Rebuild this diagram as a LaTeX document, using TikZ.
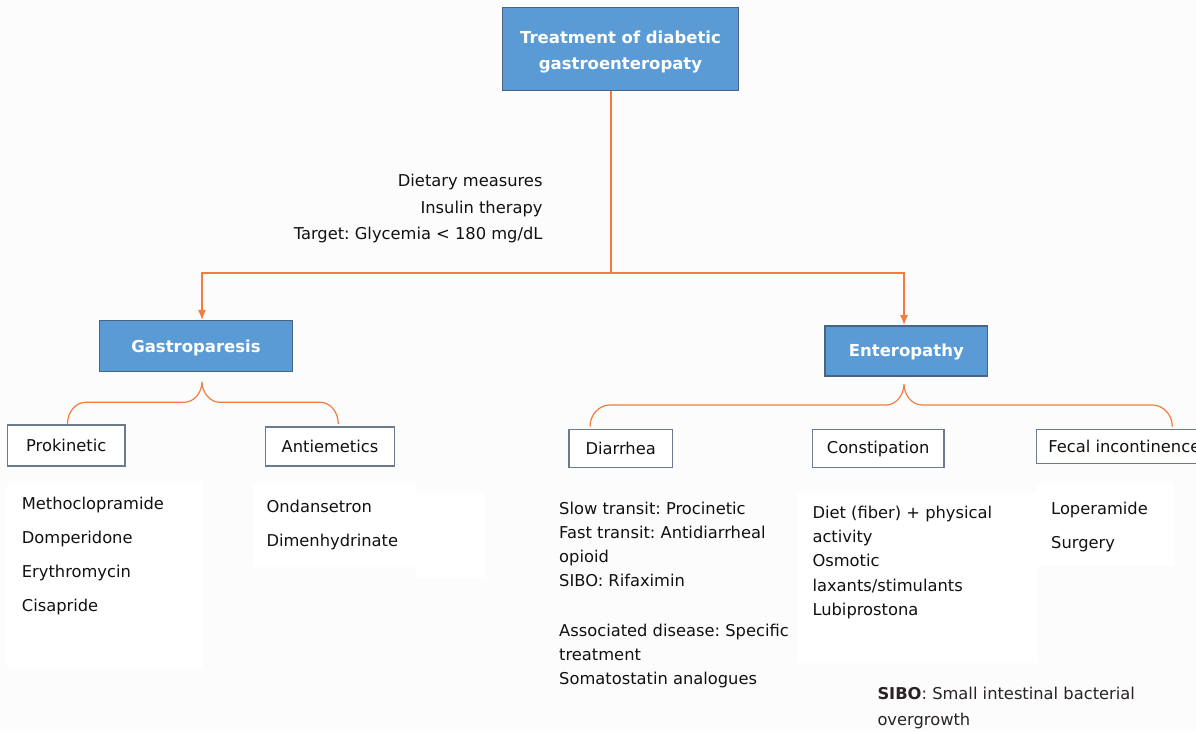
\documentclass[tikz,border=0pt]{standalone}
\usepackage{fontspec}
\setmainfont{DejaVu Sans}
\frenchspacing
\usetikzlibrary{arrows.meta,calc}
\definecolor{bluefill}{HTML}{5B9BD5}
\definecolor{blueline}{HTML}{4A6584}
\definecolor{grayline}{HTML}{6C7A8E}
\definecolor{orangeline}{HTML}{F47C3C}
\definecolor{txt}{HTML}{111111}
\definecolor{bgcol}{HTML}{FCFCFC}
\definecolor{sibocol}{HTML}{2A2223}
\tikzset{
  mainbox/.style={draw=blueline, line width=1.5pt, fill=bluefill, text=white,
    font=\bfseries\fontsize{16.5}{26}\selectfont, align=center, inner sep=0pt},
  subbox/.style={draw=grayline, line width=1.5pt, fill=white, text=txt,
    font=\fontsize{16.3}{20}\selectfont, inner sep=0pt},
  listtext/.style={anchor=north west, align=left, inner sep=0pt, text=txt},
  conn/.style={draw=orangeline, line width=1.2pt},
  arr/.style={conn, -{Latex[length=10pt,width=8pt]}},
  whitebg/.style={fill=white, draw=none},
}
\begin{document}
\frenchspacing
\begin{tikzpicture}[x=1pt,y=-1pt]
\clip (0,0) rectangle (1196,731);
\fill[bgcol] (0,0) rectangle (1196,731);
% white panels behind the lists
\fill[whitebg] (7,483) rectangle (202,668);
\fill[whitebg] (253,483) rectangle (416,567);
\fill[whitebg] (416,493) rectangle (485,578);
\fill[whitebg] (797,493) rectangle (1037,663);
\fill[whitebg] (1037,483) rectangle (1174,566);

% main boxes
\node[mainbox, minimum width=235.6pt, minimum height=83.4pt] (top) at (620.5,49)
  {\rule{0pt}{18.5pt}Treatment of diabetic\\gastroenteropaty};
\node[mainbox, minimum width=193.4pt, minimum height=51pt] (gastro) at (196,346.2)
  {\rule{0pt}{16.5pt}Gastroparesis};
\node[mainbox, minimum width=162.7pt, minimum height=50.3pt] (entero) at (906.3,350.9)
  {\rule{0pt}{14.5pt}Enteropathy};

% sub boxes
\node[subbox, minimum width=117.7pt, minimum height=41pt] (prok) at (66.2,445.5) {Prokinetic};
\node[subbox, minimum width=128.6pt, minimum height=39pt] (anti) at (330,446.5) {Antiemetics};
\node[subbox, minimum width=103.3pt, minimum height=37.6pt] (diar) at (620.7,448.5) {Diarrhea};
\node[subbox, minimum width=131.7pt, minimum height=37.6pt] (const) at (878.2,448.5) {Constipation};
\node[subbox, minimum width=175.3pt, minimum height=33.6pt] (fecal) at (1124.3,446.5) {Fecal incontinence};

% general measures
\node[anchor=north east, align=right, inner sep=0pt, text=txt,
  font=\fontsize{16.3}{26.3}\selectfont] (gen) at (542.7,174.3)
  {Dietary measures\\Insulin therapy\\Target: Glycemia < 180 mg/dL};

% lists
\node[listtext, font=\fontsize{16.3}{34}\selectfont] (prokl) at (21.7,496.9)
  {Methoclopramide\\Domperidone\\Erythromycin\\Cisapride};
\node[listtext, font=\fontsize{16.3}{33.7}\selectfont] (antil) at (266.3,499.9)
  {Ondansetron\\Dimenhydrinate};
\node[listtext, font=\fontsize{16.3}{24}\selectfont] (diarl) at (559,501.9)
  {Slow transit: Procinetic\\Fast transit: Antidiarrheal\\opioid\\SIBO: Rifaximin\\[25.7pt]
   Associated disease: Specific\\treatment\\Somatostatin analogues};
\node[listtext, font=\fontsize{16.3}{24.2}\selectfont] (constl) at (812.3,505.9)
  {Diet (fiber) + physical\\activity\\Osmotic\\laxants/stimulants\\Lubiprostona};
\node[listtext, font=\fontsize{16.3}{34}\selectfont] (fecall) at (1051,501.9)
  {Loperamide\\Surgery};
\node[listtext, text=sibocol, font=\fontsize{16.3}{25.7}\selectfont] (note) at (877.3,686.9)
  {\textbf{SIBO}: Small intestinal bacterial\\overgrowth};

% connectors
\coordinate (j) at (611,273);
\draw[conn] (j |- top.south) -- (j);
\draw[arr] (j) -| ([xshift=6pt]gastro.north);
\draw[arr] (j) -| ([xshift=-2.3pt]entero.north);

% brace under Gastroparesis
\coordinate (gtip) at (202,381.7);
\coordinate (gL) at (67.5,424);
\coordinate (gR) at (338.3,424);
\draw[conn] (gL) .. controls +(0,-12) and +(-10,0) .. ($(gL)+(18,-21.7)$)
  -- ($(gtip)+(-18,20.6)$) .. controls +(10,0) and +(0,11) .. (gtip)
  .. controls +(0,11) and +(-10,0) .. ($(gtip)+(18,20.6)$)
  -- ($(gR)+(-18,-21.7)$) .. controls +(10,0) and +(0,-12) .. (gR);

% brace under Enteropathy
\coordinate (etip) at (904,384);
\coordinate (eL) at (590,426.7);
\coordinate (eR) at (1172.3,426.7);
\draw[conn] (eL) .. controls +(0,-12) and +(-11,0) .. ($(eL)+(20,-21.7)$)
  -- ($(etip)+(-18,21)$) .. controls +(10,0) and +(0,11) .. (etip)
  .. controls +(0,11) and +(-10,0) .. ($(etip)+(18,21)$)
  -- ($(eR)+(-20,-21.7)$) .. controls +(11,0) and +(0,-12) .. (eR);
\end{tikzpicture}
\end{document}
